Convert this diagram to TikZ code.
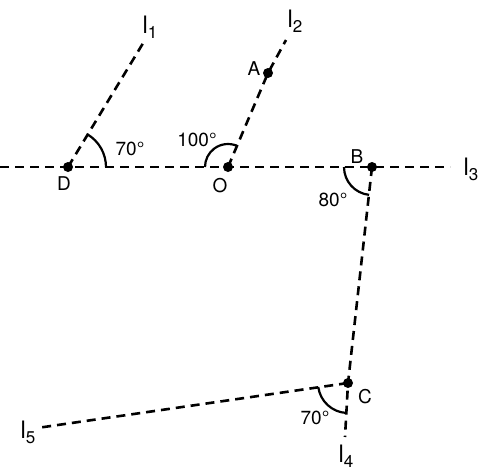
\documentclass[tikz,border=0pt]{standalone}
\usepackage{fontspec}
\setmainfont{TeX Gyre Heros}
\newcommand{\linename}[1]{l\raisebox{-5pt}{\fontsize{17}{17}\selectfont #1}}
\begin{document}
\begin{tikzpicture}[x=1pt, y=-1pt,
    dashline/.style={line width=2.6pt, dash pattern=on 9pt off 6pt},
    anglearc/.style={line width=2.2pt},
    lbl/.style={inner sep=0pt, font=\fontsize{19}{22}\selectfont},
    linelbl/.style={inner sep=0pt, font=\fontsize{24}{28}\selectfont}]
    \useasboundingbox (0,0) rectangle (487,475);
    % points
    \coordinate (D) at (68,167);
    \coordinate (O) at (228,167);
    \coordinate (B) at (372,167);
    \coordinate (A) at (268,73);
    \coordinate (C) at (348,383);
    % free ends of the lines
    \coordinate (l3left) at (0,167);
    \coordinate (l3right) at (450,167);
    \coordinate (l1end) at (145,40);
    \coordinate (l2end) at (286,40);
    \coordinate (l4end) at (345,437);
    \coordinate (l5end) at (37,428);
    % lines
    \draw[dashline] (l3left) -- (l3right);
    \draw[dashline] (D) -- (l1end);
    \draw[dashline] (O) -- (A) -- (l2end);
    \draw[dashline] (B) -- (C) -- (l4end);
    \draw[dashline] (C) -- (l5end);
    % angle marks
    \draw[anglearc] (D) ++(0:38) arc[start angle=0, end angle=-59, radius=38];
    \draw[anglearc] (O) ++(-67:23) arc[start angle=-67, end angle=-180, radius=23];
    \draw[anglearc] (B) ++(96:28) arc[start angle=96, end angle=180, radius=28];
    \draw[anglearc] (C) ++(93:30) arc[start angle=93, end angle=172, radius=30];
    % dots
    \foreach \p in {D,O,A,B,C}
        \fill (\p) circle (5);
    % labels
    \node[lbl] (labD) at (64,184) {D};
    \node[lbl] (labO) at (220,186) {O};
    \node[lbl] (labA) at (254,69) {A};
    \node[lbl] (labB) at (357,157) {B};
    \node[lbl] (labC) at (365,397) {C};
    \node[lbl] (angD) at (130,149) {70°};
    \node[lbl] (angO) at (197,140) {100°};
    \node[lbl] (angB) at (333,200) {80°};
    \node[lbl] (angC) at (315,418) {70°};
    \node[linelbl] (labl1) at (150,27) {\linename{1}};
    \node[linelbl] (labl2) at (295,21) {\linename{2}};
    \node[linelbl] (labl3) at (471,169) {\linename{3}};
    \node[linelbl] (labl4) at (346,456) {\linename{4}};
    \node[linelbl] (labl5) at (28,432) {\linename{5}};
\end{tikzpicture}
\end{document}
